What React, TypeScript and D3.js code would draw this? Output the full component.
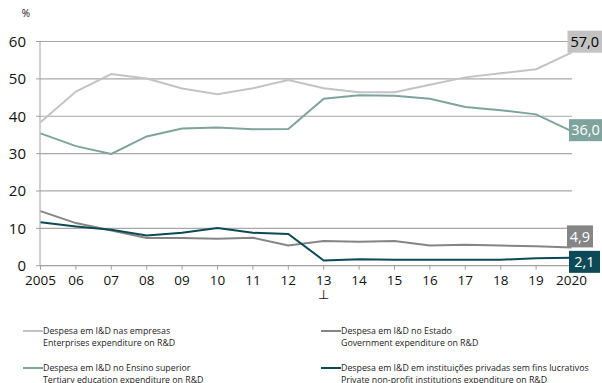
import React from "react";
import * as d3 from "d3";

const years = [2005, 2006, 2007, 2008, 2009, 2010, 2011, 2012, 2013, 2014, 2015, 2016, 2017, 2018, 2019, 2020];
const yearLabels = ["2005", "06", "07", "08", "09", "10", "11", "12", "13", "14", "15", "16", "17", "18", "19", "2020"];
const yTicks = [0, 10, 20, 30, 40, 50, 60];

const enterprises = [38.4, 46.6, 51.3, 50.1, 47.4, 45.9, 47.5, 49.7, 47.5, 46.4, 46.4, 48.4, 50.4, 51.5, 52.6, 57.0];
const tertiary = [35.4, 32.0, 29.9, 34.6, 36.7, 37.0, 36.5, 36.6, 44.7, 45.6, 45.5, 44.7, 42.5, 41.6, 40.5, 36.0];
const government = [14.6, 11.4, 9.4, 7.4, 7.4, 7.2, 7.5, 5.4, 6.6, 6.4, 6.6, 5.4, 5.6, 5.4, 5.2, 4.9];
const nonprofit = [11.6, 10.5, 9.6, 8.1, 8.8, 10.1, 8.8, 8.5, 1.4, 1.7, 1.6, 1.6, 1.6, 1.6, 2.0, 2.1];

const seriesNames = [
  ["Despesa em I&D nas empresas", "Enterprises expenditure on R&D"],
  ["Despesa em I&D no Estado", "Government expenditure on R&D"],
  ["Despesa em I&D no Ensino superior", "Tertiary education expenditure on R&D"],
  ["Despesa em I&D em instituições privadas sem fins lucrativos", "Private non-profit institutions expenditure on R&D"],
];
const seriesValues = [enterprises, government, tertiary, nonprofit];
const endLabels = ["57,0", "4,9", "36,0", "2,1"];
const colors = ["#c3c3c3", "#858585", "#7fa39d", "#0c4a58"];
const labelTextColors = ["#000", "#fff", "#fff", "#fff"];

export default function App() {
  const W = 602, H = 383;
  const x = d3.scaleLinear().domain([2005, 2020]).range([40.5, 571.5]);
  const y = d3.scaleLinear().domain([0, 60]).range([265.7, 41.5]);
  const line = d3.line<number>().x((_, i) => x(years[i])).y((v) => y(v));
  const font = "'Open Sans', 'DejaVu Sans', sans-serif";

  // label box vertical shift relative to the line end (px)
  const labelShift = [-11, -11, -1, 4];
  const labelX = [567.5, 567, 569, 569];
  const labelW = [34.5, 26, 33, 31];

  const legendPos = [
    [23, 331],
    [321, 331],
    [23, 368],
    [321, 368],
  ];

  return (
    <svg width={W} height={H} style={{ position: "absolute", left: 0, top: 0 }} fontFamily={font}>
      <rect width={W} height={H} fill="#fff" />
      {yTicks.slice(1).map((t) => (
        <line key={t} x1={40} x2={572} y1={y(t)} y2={y(t)} stroke="#a8a8a8" strokeWidth={1.2} />
      ))}
      <line x1={40} x2={40} y1={y(60)} y2={y(0)} stroke="#a0a0a0" strokeWidth={1} />
      <line x1={40} x2={572} y1={y(0)} y2={y(0)} stroke="#a0a0a0" strokeWidth={1.2} />
      {yTicks.map((t) => (
        <g key={t}>
          <line x1={36} x2={40} y1={y(t)} y2={y(t)} stroke="#a0a0a0" />
          <text x={26} y={y(t)} dy="0.36em" textAnchor="end" fontSize={15} fill="#111">
            {t}
          </text>
        </g>
      ))}
      <text x={26} y={17} textAnchor="middle" fontSize={10} fill="#111">%</text>
      {years.map((yr, i) => (
        <g key={yr}>
          <line x1={x(yr)} x2={x(yr)} y1={y(0)} y2={y(0) + 4} stroke="#a0a0a0" />
          <text x={x(yr)} y={285} textAnchor="middle" fontSize={13.5} fill="#111">
            {yearLabels[i]}
          </text>
        </g>
      ))}
      <text x={x(2013)} y={299} textAnchor="middle" fontSize={13} fill="#111">⊥</text>
      {seriesValues.map((vals, i) => (
        <path key={i} d={line(vals) || ""} fill="none" stroke={colors[i]} strokeWidth={2} />
      ))}
      {seriesValues.map((vals, i) => {
        const v = vals[vals.length - 1];
        const cy = y(v) + labelShift[i];
        const w = labelW[i];
        return (
          <g key={"l" + i}>
            <rect x={labelX[i]} y={cy - 11} width={w} height={22} fill={colors[i]} />
            <text x={labelX[i] + w / 2} y={cy} dy="0.36em" textAnchor="middle" fontSize={14.5} fill={labelTextColors[i]}>
              {endLabels[i]}
            </text>
          </g>
        );
      })}
      {seriesNames.map((nm, i) => {
        const [lx, ly] = legendPos[i];
        return (
          <g key={"lg" + i}>
            <line x1={lx} x2={lx + 20} y1={ly} y2={ly} stroke={colors[i]} strokeWidth={2} />
            <text x={lx + 20} y={ly} dy="0.35em" fontSize={8.8} fill="#222">{nm[0]}</text>
            <text x={lx + 20} y={ly + 11.5} dy="0.35em" fontSize={8.8} fill="#222">{nm[1]}</text>
          </g>
        );
      })}
    </svg>
  );
}
